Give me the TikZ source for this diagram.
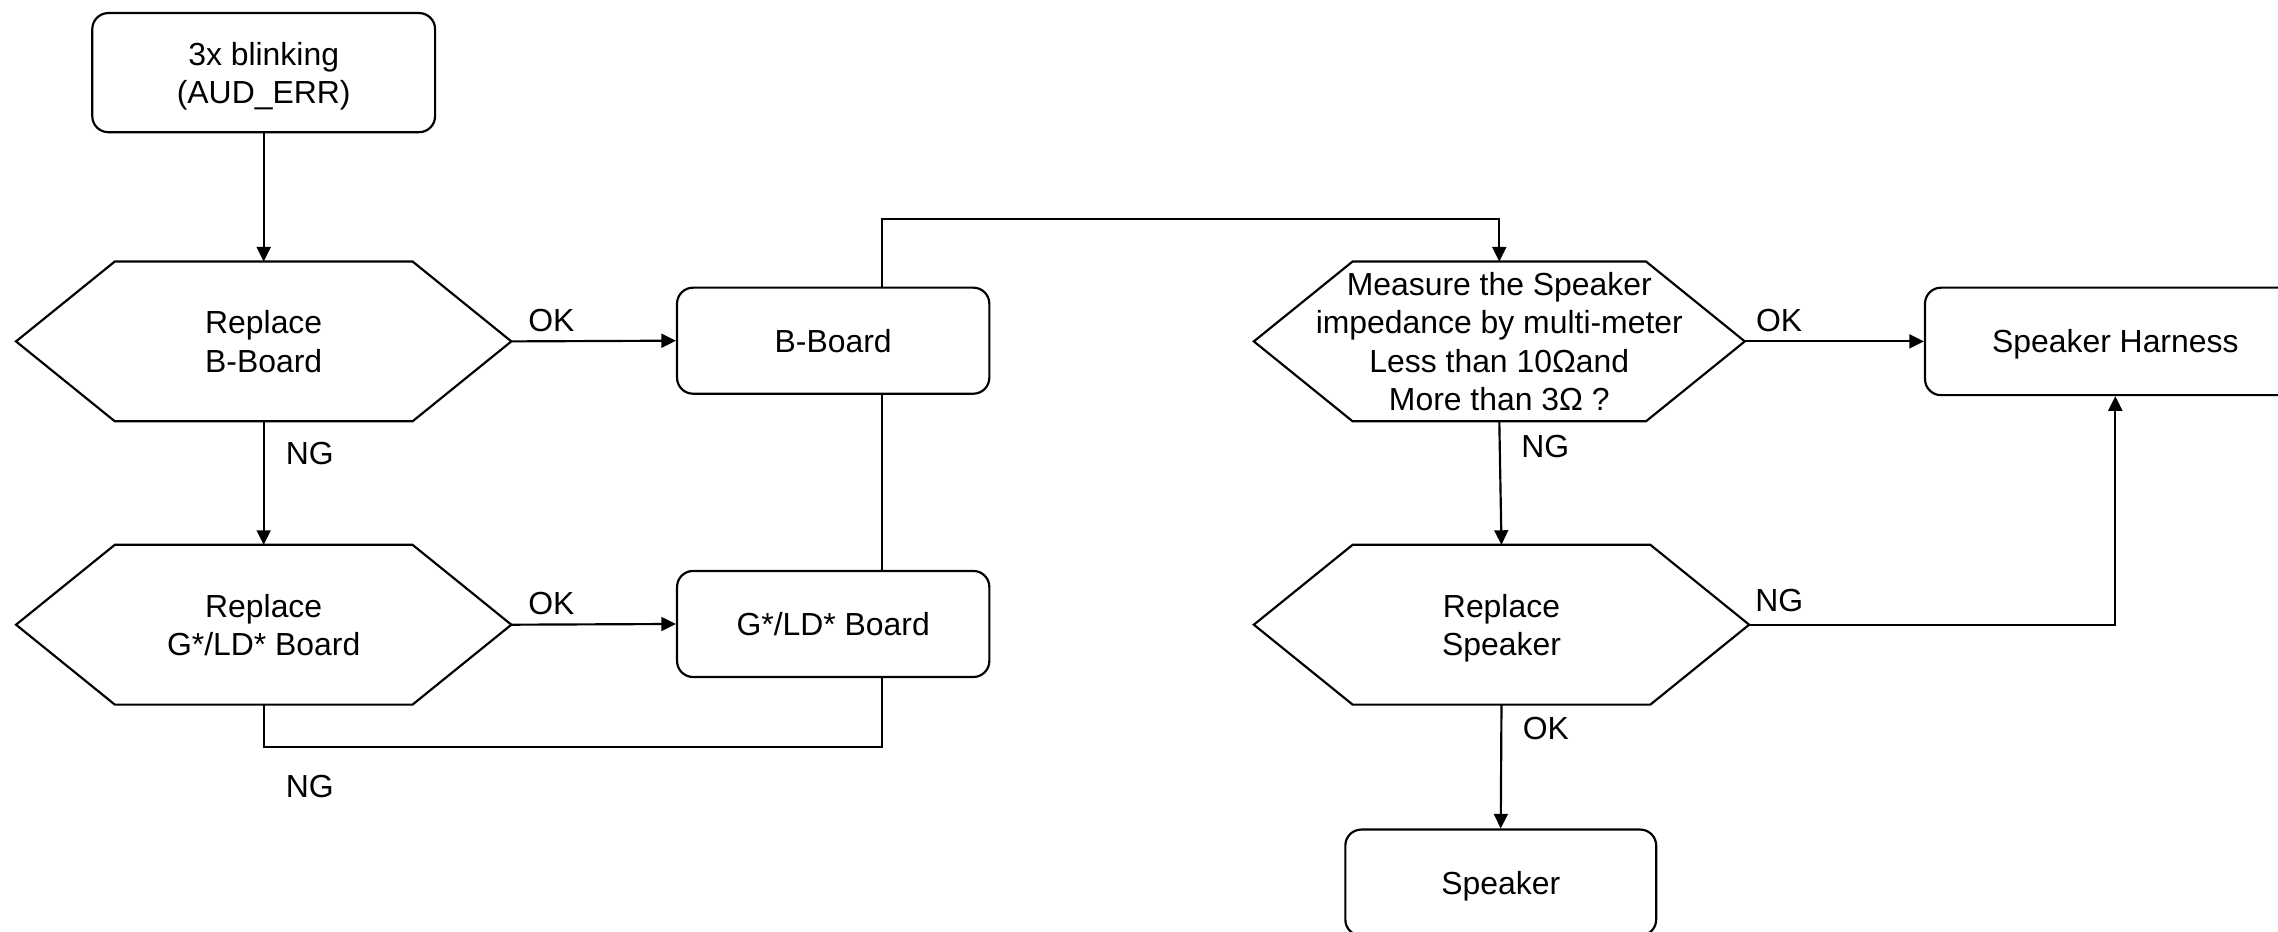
\documentclass[tikz,border=0pt]{standalone}
\usepackage{fontspec}
\setmainfont{Liberation Sans}
\usetikzlibrary{arrows.meta}
\tikzset{
  box/.style={draw, rounded corners=0.22cm, align=center, text depth=0pt},
  hx/.style={align=center, inner sep=0pt, text depth=0pt},
  lbl/.style={inner sep=0pt},
  arr/.style={-{Triangle[length=0.2cm,width=0.19cm]}}
}
\newcommand{\hexa}[2]{%
  \draw ([shift={(-#2,1.1cm)}]#1.center)
    -- ([shift={(#2,1.1cm)}]#1.center)
    -- ([xshift=#2+1.36cm]#1.center) coordinate (#1-r)
    -- ([shift={(#2,-1.1cm)}]#1.center)
    -- ([shift={(-#2,-1.1cm)}]#1.center)
    -- ([xshift=-#2-1.36cm]#1.center) coordinate (#1-l)
    -- cycle;
  \coordinate (#1-t) at ([yshift=1.1cm]#1.center);
  \coordinate (#1-b) at ([yshift=-1.1cm]#1.center);}
\begin{document}
\begin{tikzpicture}[x=0.02cm, y=-0.02cm, line width=0.85pt, font=\fontsize{12.5}{15}\selectfont]
      \useasboundingbox (0,0) rectangle (1568,641);
      \node[box, minimum width=4.72cm, minimum height=1.64cm] (blink) at (181.5,50) {3x blinking\\(AUD\_ERR)};
      \node[hx] (rplB) at (181.5,235) {Replace\\B-Board};
      \node[hx] (rplG) at (181.5,430) {Replace\\G*/LD* Board};
      \node[box, minimum width=4.3cm, minimum height=1.46cm] (bbrd) at (573.5,234.5) {B-Board};
      \node[box, minimum width=4.3cm, minimum height=1.46cm] (gbrd) at (573.5,429.5) {G*/LD* Board};
      \node[hx] (meas) at (1032,235) {Measure the Speaker\\impedance by multi-meter\\Less than 10Ωand\\More than 3Ω ?};
      \node[hx] (rplS) at (1033.5,430) {Replace\\Speaker};
      \node[box, minimum width=5.24cm, minimum height=1.48cm] (harn) at (1456,235) {Speaker Harness};
      \node[box, minimum width=4.28cm, minimum height=1.46cm] (spk) at (1033,607.5) {Speaker};
      \hexa{rplB}{2.05cm}
      \hexa{rplG}{2.05cm}
      \hexa{meas}{2.02cm}
      \hexa{rplS}{2.05cm}
      \coordinate (busx) at (607,0);
      \coordinate (jump) at (607,151);
      \coordinate (ngbot) at (181.5,514);
      \begin{scope}[arr]
        \draw (blink.south) to (rplB-t);
        \draw (rplB-b) to (rplG-t);
        \draw (rplB-r) to (bbrd.west);
        \draw (rplG-r) to (gbrd.west);
        \draw (bbrd.north -| busx) to (jump) -| (meas-t);
        \draw (meas-r) to (harn.west);
        \draw (meas-b) to (rplS-t);
        \draw (rplS-r) -| (harn.south);
        \draw (rplS-b) to (spk.north);
      \end{scope}
      \begin{scope}[-]
        \draw (gbrd.north -| busx) to (bbrd.south -| busx);
        \draw (rplG-b) to (ngbot) -| (gbrd.south -| busx);
      \end{scope}
      \node[lbl, anchor=south west] (okB) at ([shift={(0.22cm,0.12cm)}]rplB-r) {OK};
      \node[lbl, anchor=south west] (okG) at ([shift={(0.22cm,0.12cm)}]rplG-r) {OK};
      \node[lbl, anchor=north west] (ngB) at ([shift={(0.29cm,-0.28cm)}]rplB-b) {NG};
      \node[lbl, anchor=north west] (ngG) at ([shift={(0.29cm,-0.38cm)}]ngbot) {NG};
      \node[lbl, anchor=south west] (okM) at ([shift={(0.14cm,0.12cm)}]meas-r) {OK};
      \node[lbl, anchor=north west] (ngM) at ([shift={(0.29cm,-0.18cm)}]meas-b) {NG};
      \node[lbl, anchor=south west] (ngS) at ([shift={(0.07cm,0.16cm)}]rplS-r) {NG};
      \node[lbl, anchor=north west] (okS) at ([shift={(0.28cm,-0.16cm)}]rplS-b) {OK};
    \end{tikzpicture}
\end{document}
